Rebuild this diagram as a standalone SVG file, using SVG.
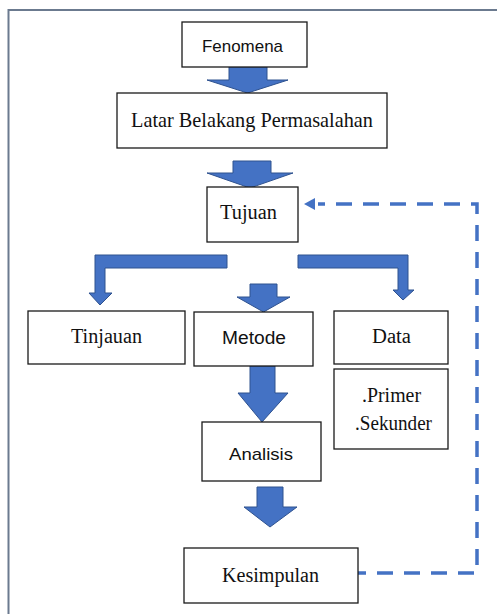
<svg xmlns="http://www.w3.org/2000/svg" width="497" height="614" viewBox="0 0 497 614">
<defs>
<style>
.box{fill:#fff;stroke:#1a1a1a;stroke-width:1.3}
.blk{fill:#4472C4;stroke:#2F528F;stroke-width:1}
.serif{font-family:"Liberation Serif","Times New Roman",serif;fill:#111}
.sans{font-family:"Liberation Sans",Arial,sans-serif;fill:#111}
.dash{fill:none;stroke:#4472C4;stroke-width:3.5;stroke-dasharray:16 11}
</style>
</defs>
<rect width="497" height="614" fill="#fff"/>
<path d="M8.5,614 V10 H497" fill="none" stroke="#6b7a8f" stroke-width="2"/>
<g id="connectors">
<path class="blk" d="M229,67 H267 V80 H288 L247.5,93 L207,80 H229 Z"/>
<path class="blk" d="M233,161 H271 V173 H293 L250,188 L207,173 H233 Z"/>
<path class="blk" d="M227,255 V268 H105 V293 H112 L100,305 L89,293 H95 V255 Z"/>
<path class="blk" d="M298,255 H408 V290 H414 L403,300 L393,290 H398 V268 H298 Z"/>
<path class="blk" d="M250,284 H277 V297 H290 L263.5,312 L237,297 H250 Z"/>
<path class="blk" d="M250,366 H275 V393 H288 L262,422 L238,393 H250 Z"/>
<path class="blk" d="M257,487 H283 V507 H297 L270,527 L244,507 H257 Z"/>
<path class="dash" d="M350,573 H477 V204 H318"/>
<path d="M304,204 L315,198 L315,210 Z" fill="#4472C4"/>
</g>
<g id="fenomena">
<rect class="box" x="182" y="22" width="125" height="45"/>
<text class="sans" x="242.5" y="52" font-size="17" text-anchor="middle" textLength="81" lengthAdjust="spacingAndGlyphs">Fenomena</text>
</g>
<g id="latar">
<rect class="box" x="117" y="93" width="270" height="55"/>
<text class="serif" x="252" y="127" font-size="22" text-anchor="middle" textLength="242" lengthAdjust="spacingAndGlyphs">Latar Belakang Permasalahan</text>
</g>
<g id="tujuan">
<rect class="box" x="207" y="187" width="91" height="55"/>
<text class="serif" x="248.5" y="219" font-size="20" text-anchor="middle" textLength="57" lengthAdjust="spacingAndGlyphs">Tujuan</text>
</g>
<g id="tinjauan">
<rect class="box" x="28" y="311" width="157" height="53"/>
<text class="serif" x="106.5" y="343" font-size="20" text-anchor="middle" textLength="71" lengthAdjust="spacingAndGlyphs">Tinjauan</text>
</g>
<g id="metode">
<rect class="box" x="194" y="312" width="119" height="54"/>
<text class="sans" x="254" y="344" font-size="18" text-anchor="middle" textLength="64" lengthAdjust="spacingAndGlyphs">Metode</text>
</g>
<g id="data">
<rect class="box" x="334" y="311" width="114" height="53"/>
<text class="serif" x="391.5" y="343" font-size="20" text-anchor="middle" textLength="39" lengthAdjust="spacingAndGlyphs">Data</text>
</g>
<g id="primer">
<rect class="box" x="334" y="369" width="114" height="80"/>
<text class="serif" x="391.5" y="402" font-size="20" text-anchor="middle" textLength="59" lengthAdjust="spacingAndGlyphs">.Primer</text>
<text class="serif" x="393.5" y="430" font-size="20" text-anchor="middle" textLength="77" lengthAdjust="spacingAndGlyphs">.Sekunder</text>
</g>
<g id="analisis">
<rect class="box" x="202" y="422" width="119" height="59" stroke-width="1.6"/>
<text class="sans" x="261" y="460" font-size="17" text-anchor="middle" textLength="64" lengthAdjust="spacingAndGlyphs">Analisis</text>
</g>
<g id="kesimpulan">
<rect class="box" x="184" y="548" width="174" height="55"/>
<text class="serif" x="270.5" y="582" font-size="20" text-anchor="middle" textLength="97" lengthAdjust="spacingAndGlyphs">Kesimpulan</text>
</g>
</svg>
